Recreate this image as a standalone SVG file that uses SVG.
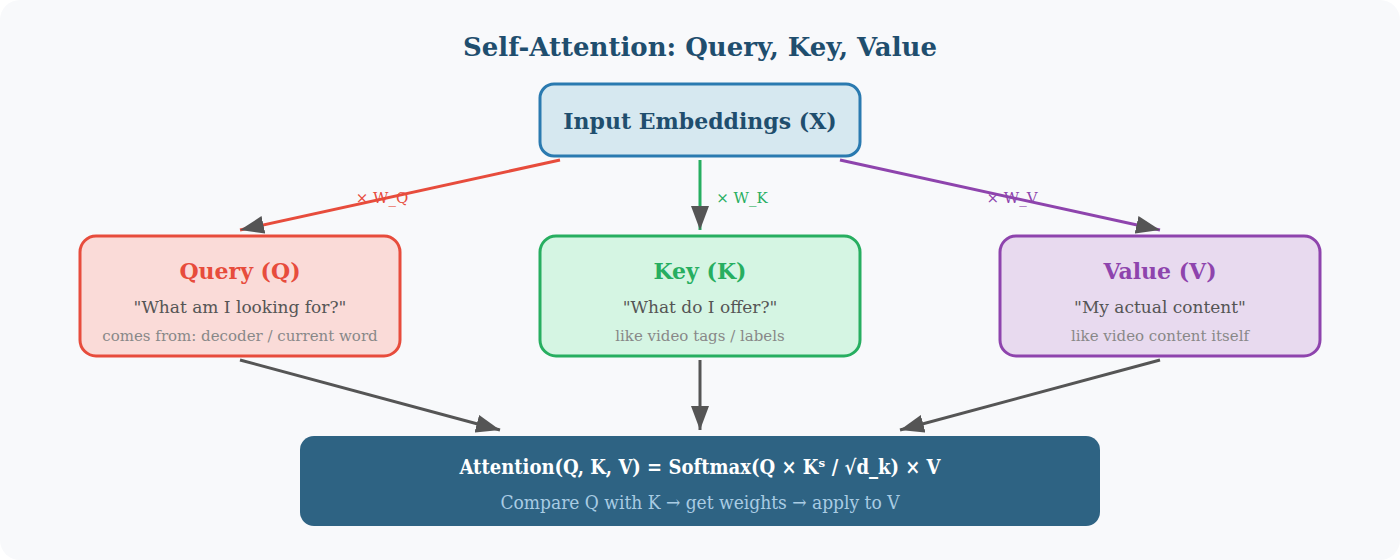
<svg xmlns="http://www.w3.org/2000/svg" width="1400" height="560" viewBox="0 0 1400 560">
<style>
text{font-family:"DejaVu Serif",serif;text-anchor:middle}
.t{font-weight:bold;font-size:22px}
.s{font-size:17px;fill:#555}
.n{font-size:15px;fill:#888}
.l{font-size:15px}
</style>
<defs>
<marker id="a" viewBox="0 0 10 10" refX="10" refY="5" markerWidth="8" markerHeight="8" markerUnits="userSpaceOnUse" orient="auto" style="overflow:visible"><path d="M0,0L10,5L0,10z" fill="#555"/></marker>
<marker id="b" viewBox="0 0 10 10" refX="10" refY="5" markerWidth="24" markerHeight="18" orient="auto" markerUnits="userSpaceOnUse" preserveAspectRatio="none"><path d="M0,0L10,5L0,10z" fill="#555"/></marker>
</defs>
<rect width="1400" height="560" rx="20" fill="#f8f9fb"/>
<text x="700" y="56" style="font-size:26px;font-weight:bold;fill:#1f4e6e">Self-Attention: Query, Key, Value</text>
<g id="connectors" stroke-width="3" fill="none">
<line x1="560" y1="160" x2="240" y2="230" stroke="#e74c3c" marker-end="url(#b)"/>
<line x1="700" y1="160" x2="700" y2="230" stroke="#27ae60" marker-end="url(#b)"/>
<line x1="840" y1="160" x2="1160" y2="230" stroke="#8e44ad" marker-end="url(#b)"/>
<line x1="240" y1="360" x2="500" y2="430" stroke="#555" marker-end="url(#b)"/>
<line x1="700" y1="360" x2="700" y2="430" stroke="#555" marker-end="url(#b)"/>
<line x1="1160" y1="360" x2="900" y2="430" stroke="#555" marker-end="url(#b)"/>
<text x="382" y="203" class="l" fill="#e74c3c" stroke="none">× W_Q</text>
<text x="742" y="203" class="l" fill="#27ae60" stroke="none">× W_K</text>
<text x="1012" y="203" class="l" fill="#8e44ad" stroke="none">× W_V</text>
</g>
<g id="input">
<rect x="540" y="84" width="320" height="72" rx="14" fill="#d6e8f0" stroke="#2a7ab0" stroke-width="3"/>
<text x="700" y="129" class="t" style="fill:#1f4e6e">Input Embeddings (X)</text>
</g>
<g id="query">
<rect x="80" y="236" width="320" height="120" rx="16" fill="#fadbd8" stroke="#e74c3c" stroke-width="3"/>
<text x="240" y="279" class="t" fill="#e74c3c">Query (Q)</text>
<text x="240" y="313" class="s">"What am I looking for?"</text>
<text x="240" y="341" class="n">comes from: decoder / current word</text>
</g>
<g id="key">
<rect x="540" y="236" width="320" height="120" rx="16" fill="#d5f5e3" stroke="#27ae60" stroke-width="3"/>
<text x="700" y="279" class="t" fill="#27ae60">Key (K)</text>
<text x="700" y="313" class="s">"What do I offer?"</text>
<text x="700" y="341" class="n">like video tags / labels</text>
</g>
<g id="value">
<rect x="1000" y="236" width="320" height="120" rx="16" fill="#e8daef" stroke="#8e44ad" stroke-width="3"/>
<text x="1160" y="279" class="t" fill="#8e44ad">Value (V)</text>
<text x="1160" y="313" class="s">"My actual content"</text>
<text x="1160" y="341" class="n">like video content itself</text>
</g>
<g id="attention">
<rect x="300" y="436" width="800" height="90" rx="14" fill="#2e6383"/>
<text x="700" y="474" style="font-family:'DejaVu Serif Condensed','DejaVu Serif',serif;font-weight:bold;font-size:20px;fill:#fff">Attention(Q, K, V) = Softmax(Q × Kˢ / √d_k) × V</text>
<text x="700" y="509" style="font-family:'DejaVu Serif Condensed','DejaVu Serif',serif;font-size:19px;fill:#a9cce3">Compare Q with K → get weights → apply to V</text>
</g>
</svg>
